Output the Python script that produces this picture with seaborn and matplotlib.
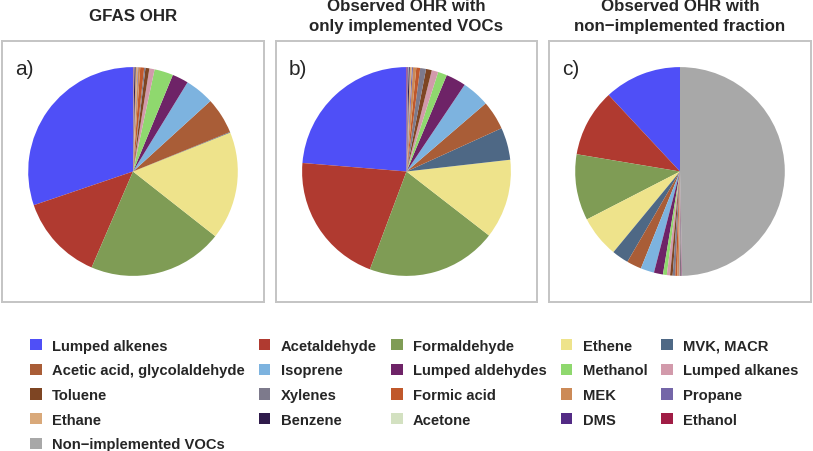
import numpy as np
import seaborn as sns
import matplotlib.pyplot as plt
from matplotlib.patches import Patch

# species, in the order used for the wedges
species = ['Lumped alkenes', 'Acetaldehyde', 'Formaldehyde', 'Ethene', 'MVK, MACR',
           'Acetic acid, glycolaldehyde', 'Isoprene', 'Lumped aldehydes', 'Methanol',
           'Lumped alkanes', 'Toluene', 'Xylenes', 'Formic acid', 'MEK', 'Propane',
           'Ethane', 'Benzene', 'Acetone', 'DMS', 'Ethanol', 'Non\u2212implemented VOCs']

colors = ['#4f4ff7', '#b03a30', '#7f9c55', '#eee38b', '#4e6885',
          '#a95d37', '#7db3df', '#6e2367', '#8fd86e',
          '#d29aab', '#7e4523', '#7d7a8c', '#c0582b', '#cc8a57', '#7466a8',
          '#d9a97a', '#2f1b4b', '#d3e1c1', '#532b85', '#a01d45', '#a8a8a8']

# OH reactivity fractions (%)
gfas_ohr = [30.2, 13.3, 20.8, 16.7, 0.1, 5.6, 4.5, 2.5, 2.9,
            0.8, 0.6, 0.2, 0.6, 0.3, 0.1, 0.3, 0.2, 0.1, 0.05, 0.05, 0.0]
obs_impl = [23.7, 20.6, 20.2, 12.3, 5.0, 4.5, 4.3, 3.1, 1.4,
            1.0, 0.9, 0.9, 0.6, 0.5, 0.2, 0.3, 0.2, 0.1, 0.1, 0.1, 0.0]
obs_nonimpl = [12.0, 10.5, 10.3, 6.5, 2.6, 2.3, 2.1, 1.4, 0.6,
               0.5, 0.4, 0.4, 0.3, 0.25, 0.1, 0.15, 0.1, 0.05, 0.05, 0.05, 50.0]

titles = ['GFAS OHR', 'Observed OHR with\nonly implemented VOCs',
          'Observed OHR with\nnon\u2212implemented fraction']
labels = ['a)', 'b)', 'c)']

sns.set_style('white')
plt.rcParams['font.family'] = ['Liberation Sans', 'DejaVu Sans']

W, H = 813, 452
fig = plt.figure(figsize=(W / 100, H / 100), dpi=100)

boxes = [(2, 262), (276, 261), (549, 262)]
for (x0, w), vals, title, lab in zip(boxes, [gfas_ohr, obs_impl, obs_nonimpl], titles, labels):
    ax = fig.add_axes([x0 / W, 1 - 303 / H, w / W, 261 / H])
    ax.pie(vals, colors=colors, startangle=90, counterclock=True, radius=0.8,
           wedgeprops=dict(linewidth=0))
    ax.set_aspect('equal', adjustable='datalim')
    ax.set_xlim(-1, 1)
    ax.set_ylim(-1, 1)
    ax.set_frame_on(True)
    for s in ax.spines.values():
        s.set_visible(True)
        s.set_color('#c4c4c4')
        s.set_linewidth(1.4)
    ax.set_xticks([])
    ax.set_yticks([])
    ax.text(0.05, 0.93, lab, transform=ax.transAxes, fontsize=15, va='top', ha='left')
    fig.text((x0 + w / 2) / W, 1 - 16.5 / H, title, ha='center', va='center',
             fontsize=12.2, fontweight='bold', linespacing=1.35)

# legend filled row by row like the reference
ncol = 5
handles = [Patch(facecolor=c, edgecolor='none') for c in colors]
order = []
for c in range(ncol):
    order += list(range(c, len(species), ncol))
fig.legend([handles[i] for i in order], [species[i] for i in order],
           ncol=ncol, loc='upper left', bbox_to_anchor=(24 / W, 1 - 334 / H),
           frameon=False, prop=dict(weight='bold', size=10.6),
           handlelength=0.8, handleheight=0.8, handletextpad=0.7,
           columnspacing=0.95, labelspacing=0.72, borderaxespad=0)

fig.savefig('out.png', dpi=100)
